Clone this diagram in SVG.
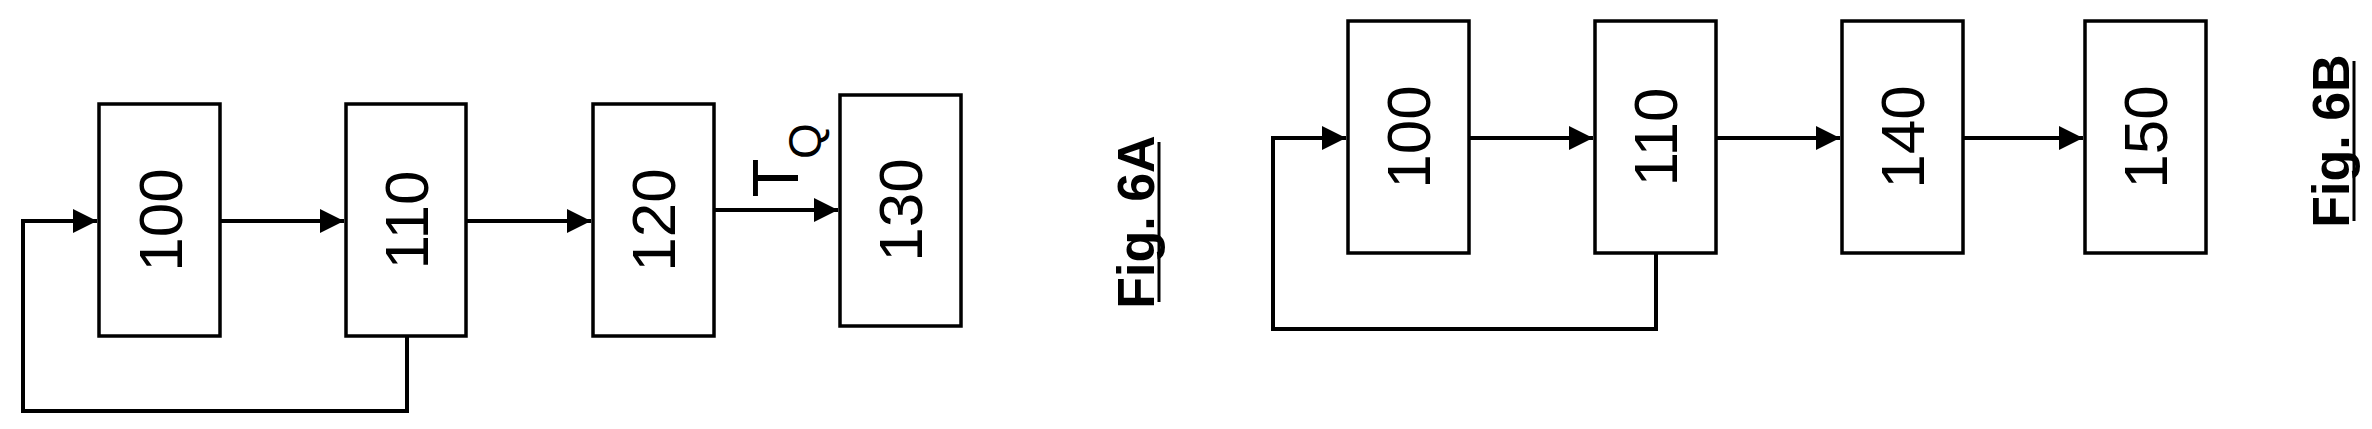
<svg xmlns="http://www.w3.org/2000/svg" width="2372" height="429" viewBox="0 0 2372 429">
<style>
.b{fill:#fff;stroke:#000;stroke-width:3.5}
.l{fill:none;stroke:#000;stroke-width:4}
.u{stroke:#000;stroke-width:3}
.t{font-family:"Liberation Sans",Arial,sans-serif;font-size:62px;text-anchor:middle;dominant-baseline:central}
.f{font-family:"Liberation Sans",Arial,sans-serif;font-size:52px;font-weight:bold;text-anchor:middle}
</style>
<defs>
<marker id="ar" viewBox="0 0 10 10" refX="10" refY="5" markerWidth="24" markerHeight="24" markerUnits="userSpaceOnUse" orient="auto"><path d="M0,0L10,5L0,10z"/></marker></defs>
<g id="connectors">
<path class="l" d="M220,221H344" marker-end="url(#ar)"/>
<path class="l" d="M466,221H591" marker-end="url(#ar)"/>
<path class="l" d="M714,210H838" marker-end="url(#ar)"/>
<path class="l" d="M407,336V411H23V221H97" marker-end="url(#ar)"/>
<path class="l" d="M1469,138H1593" marker-end="url(#ar)"/>
<path class="l" d="M1716,138H1840" marker-end="url(#ar)"/>
<path class="l" d="M1963,138H2083" marker-end="url(#ar)"/>
<path class="l" d="M1656,253V329H1273V138H1346" marker-end="url(#ar)"/>
</g>
<g id="a100"><rect class="b" x="99" y="104" width="121" height="232"/><text class="t" transform="translate(160,220) rotate(-90)">100</text></g>
<g id="a110"><rect class="b" x="346" y="104" width="120" height="232"/><text class="t" transform="translate(406,220) rotate(-90)">110</text></g>
<g id="a120"><rect class="b" x="593" y="104" width="121" height="232"/><text class="t" transform="translate(653,220) rotate(-90)">120</text></g>
<g id="a130"><rect class="b" x="840" y="95" width="121" height="231"/><text class="t" transform="translate(900,210) rotate(-90)">130</text></g>
<g id="tq"><text transform="translate(798,178) rotate(-90)" font-family="Liberation Sans,Arial,sans-serif" font-size="64" text-anchor="middle">T</text><text transform="translate(821,141) rotate(-90)" font-family="Liberation Sans,Arial,sans-serif" font-size="46" text-anchor="middle">Q</text></g>
<g id="fig6a"><text class="f" transform="translate(1154,222) rotate(-90)">Fig. 6A</text><line class="u" x1="1159" y1="142" x2="1159" y2="302"/></g>
<g id="b100"><rect class="b" x="1348" y="21" width="121" height="232"/><text class="t" transform="translate(1408,137) rotate(-90)">100</text></g>
<g id="b110"><rect class="b" x="1595" y="21" width="121" height="232"/><text class="t" transform="translate(1655,137) rotate(-90)">110</text></g>
<g id="b140"><rect class="b" x="1842" y="21" width="121" height="232"/><text class="t" transform="translate(1902,137) rotate(-90)">140</text></g>
<g id="b150"><rect class="b" x="2085" y="21" width="121" height="232"/><text class="t" transform="translate(2145,137) rotate(-90)">150</text></g>
<g id="fig6b"><text class="f" transform="translate(2349,141) rotate(-90)">Fig. 6B</text><line class="u" x1="2354" y1="61" x2="2354" y2="221"/></g>
</svg>
